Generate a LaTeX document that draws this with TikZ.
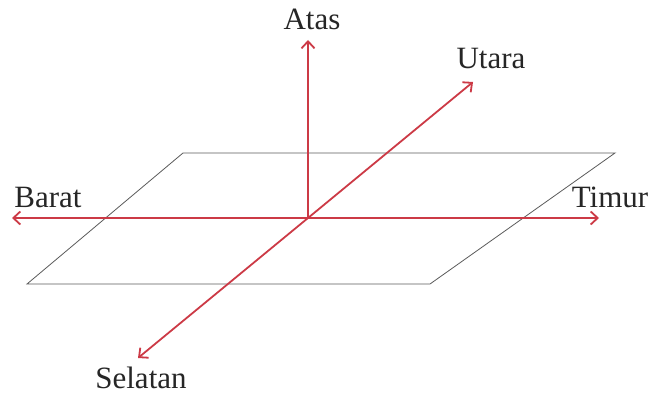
\documentclass[tikz,border=0pt]{standalone}
\usepackage{fontspec}
\setmainfont{Liberation Serif}
\usetikzlibrary{arrows.meta}
\definecolor{axisred}{RGB}{204,58,70}
\definecolor{planegray}{RGB}{90,90,90}
\tikzset{
  axis/.style={draw=axisred, line width=1.8pt, -{Straight Barb[length=7pt,width=13pt,line width=1.8pt]}},
  plane/.style={draw=planegray, line width=0.8pt},
  lbl/.style={font=\fontsize{31}{34}\selectfont, text=black!85, inner sep=0pt, anchor=base}
}
\begin{document}
\begin{tikzpicture}[x=1pt,y=-1pt]
\useasboundingbox (0,0) rectangle (653,396);
% plane
\draw[plane] (27,284) -- (183,153) -- (615,153) -- (430,284) -- cycle;
% origin and tips
\coordinate (O) at (308,218);
\coordinate (up) at (308,40);
\coordinate (north) at (473,82);
\coordinate (south) at (138,358);
\coordinate (west) at (12,218);
\coordinate (east) at (599,218);
\draw[axis] (O) -- (up);
\draw[axis] (O) -- (north);
\draw[axis] (O) -- (south);
\draw[axis] (O) -- (west);
\draw[axis] (O) -- (east);
% labels
\node[lbl] (atas) at (312,30) {Atas};
\node[lbl] (utara) at (491,68) {Utara};
\node[lbl] (barat) at (48,207) {Barat};
\node[lbl] (timur) at (610,207) {Timur};
\node[lbl] (selatan) at (141,388) {Selatan};
\end{tikzpicture}
\end{document}
